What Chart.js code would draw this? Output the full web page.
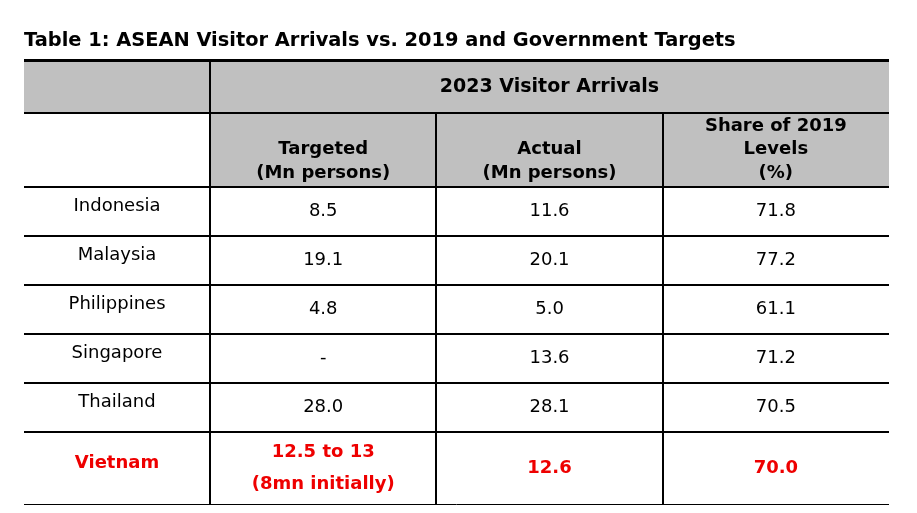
<!DOCTYPE html>
<html><head><meta charset="utf-8">
<script src="https://cdn.jsdelivr.net/npm/chart.js@4.4.1/dist/chart.umd.min.js"></script>
<style>html,body{margin:0;padding:0;background:#fff;} #wrap{width:917px;height:513px;}</style>
</head><body><div id="wrap"><canvas id="c"></canvas></div>
<script>
// ---- data ----
const tableTitle = 'Table 1: ASEAN Visitor Arrivals vs. 2019 and Government Targets';
const groupHeader = '2023 Visitor Arrivals';
const columnHeaders = [['Targeted', '(Mn persons)'], ['Actual', '(Mn persons)'], ['Share of 2019', 'Levels', '(%)']];
const countries = ['Indonesia', 'Malaysia', 'Philippines', 'Singapore', 'Thailand', 'Vietnam'];
const targeted = [['8.5'], ['19.1'], ['4.8'], ['-'], ['28.0'], ['12.5 to 13', '(8mn initially)']];
const actual = [11.6, 20.1, 5.0, 13.6, 28.1, 12.6];
const share = [71.8, 77.2, 61.1, 71.2, 70.5, 70.0];
const highlighted = 'Vietnam';

// ---- layout (relative units) ----
const FIRST_COL = 0.822;          // label column width relative to one data column
const HEAD_ROWS = [1.08, 1.51];   // header row heights relative to a body row
const BODY_ROWS = [1, 1, 1, 1, 1, 1.47];
const FONT = 'DejaVu Sans';
const RED = '#ee0000';
const GRAY = '#c0c0c0';

const headTotal = HEAD_ROWS.reduce((a, b) => a + b, 0);
const yEdges = [-headTotal];
HEAD_ROWS.concat(BODY_ROWS).forEach(h => yEdges.push(yEdges[yEdges.length - 1] + h));
yEdges[HEAD_ROWS.length] = 0;
const bodyCenters = BODY_ROWS.map((h, i) => yEdges[HEAD_ROWS.length + i] + h / 2);

const cellTexts = [
  countries.map(c => [c]),
  targeted,
  actual.map(v => [v.toFixed(1)]),
  share.map(v => [v.toFixed(1)])
];
const colX = [-FIRST_COL / 2, 0.5, 1.5, 2.5];

const datasets = cellTexts.map((col, ci) => ({
  label: 'col' + ci,
  data: col.map((_, i) => ({ x: colX[ci], y: bodyCenters[i] })),
  pointRadius: 0,
  showLine: false
}));

const tablePlugin = {
  id: 'tablePlugin',
  beforeDraw(chart) {
    const { ctx, chartArea: a, scales: { x, y } } = chart;
    ctx.save();
    ctx.fillStyle = GRAY;
    ctx.fillRect(a.left, y.getPixelForValue(yEdges[0]), a.right - a.left,
      y.getPixelForValue(yEdges[1]) - y.getPixelForValue(yEdges[0]));
    ctx.fillRect(x.getPixelForValue(0), y.getPixelForValue(yEdges[1]), a.right - x.getPixelForValue(0),
      y.getPixelForValue(yEdges[2]) - y.getPixelForValue(yEdges[1]));
    ctx.restore();
  },
  afterDatasetsDraw(chart) {
    const { ctx, chartArea: a, scales: { x, y } } = chart;
    ctx.save();
    // vertical rules
    ctx.strokeStyle = '#000';
    ctx.lineWidth = 2;
    const vl = (xv, y0) => {
      const px = Math.round(x.getPixelForValue(xv));
      ctx.beginPath(); ctx.moveTo(px, y0); ctx.lineTo(px, a.bottom); ctx.stroke();
    };
    vl(0, a.top);
    vl(1, y.getPixelForValue(yEdges[1]));
    vl(2, y.getPixelForValue(yEdges[1]));
    // headers
    ctx.fillStyle = '#000';
    ctx.textAlign = 'center';
    ctx.textBaseline = 'middle';
    ctx.font = 'bold 19px "' + FONT + '"';
    ctx.fillText(groupHeader, (x.getPixelForValue(0) + a.right) / 2,
      (y.getPixelForValue(yEdges[0]) + y.getPixelForValue(yEdges[1])) / 2);
    ctx.font = 'bold 18px "' + FONT + '"';
    const hBottom = y.getPixelForValue(yEdges[2]);
    columnHeaders.forEach((lines, ci) => {
      const cx = x.getPixelForValue(colX[ci + 1]);
      lines.forEach((t, li) => {
        ctx.fillText(t, cx, hBottom - 14 - (lines.length - 1 - li) * 23.5);
      });
    });
    // body cells
    chart.data.datasets.forEach((ds, di) => {
      const meta = chart.getDatasetMeta(di);
      meta.data.forEach((pt, i) => {
        const hl = countries[i] === highlighted;
        ctx.font = (hl ? 'bold ' : '') + '18px "' + FONT + '"';
        ctx.fillStyle = hl ? RED : '#000';
        const lines = cellTexts[di][i];
        const gap = 32;
        const shift = di === 0 ? -5 : 0;
        lines.forEach((t, li) => {
          ctx.fillText(t, pt.x, pt.y + shift + (li - (lines.length - 1) / 2) * gap);
        });
      });
    });
    ctx.restore();
  }
};

new Chart(document.getElementById('c'), {
  type: 'scatter',
  data: { datasets },
  plugins: [tablePlugin],
  options: {
    responsive: true,
    maintainAspectRatio: false,
    animation: false,
    events: [],
    layout: { padding: { left: 24, right: 28, top: 0, bottom: 9 } },
    plugins: {
      legend: { display: false },
      tooltip: { enabled: false },
      title: {
        display: true,
        text: tableTitle,
        align: 'start',
        color: '#000',
        font: { family: FONT, size: 19.4, weight: 'bold', lineHeight: 1.2 },
        padding: { top: 29, bottom: 8 }
      }
    },
    scales: {
      x: { type: 'linear', min: -FIRST_COL, max: 3, display: false },
      y: {
        type: 'linear',
        reverse: true,
        min: yEdges[0],
        max: yEdges[yEdges.length - 1],
        afterBuildTicks: s => { s.ticks = yEdges.map(v => ({ value: v })); },
        ticks: { display: false },
        border: { display: false },
        grid: {
          color: '#000',
          drawTicks: false,
          lineWidth: c => c.index === 0 ? 3 : (c.index === yEdges.length - 1 ? 1 : 2)
        }
      }
    }
  }
});
</script></body></html>
